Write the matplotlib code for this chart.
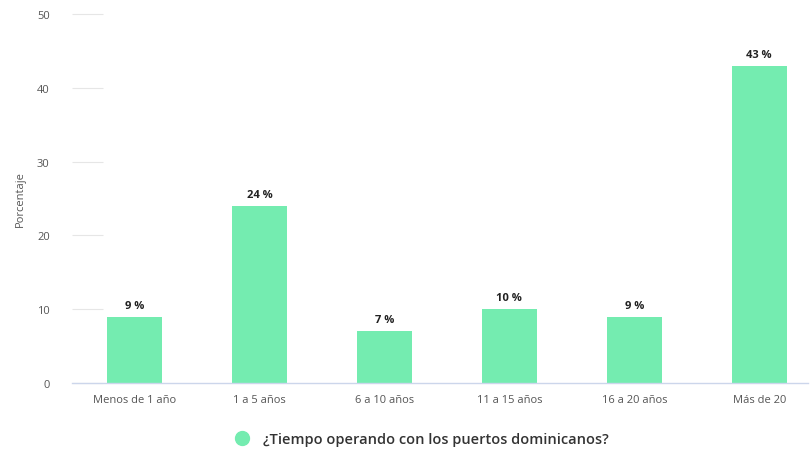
import matplotlib
matplotlib.use("Agg")
import matplotlib.pyplot as plt
import numpy as np

plt.rcParams["font.family"] = ["Open Sans", "DejaVu Sans"]

categories = ["Menos de 1 año", "1 a 5 años", "6 a 10 años", "11 a 15 años", "16 a 20 años", "Más de 20"]
values = [9, 24, 7, 10, 9, 43]
yticks = [0, 10, 20, 30, 40, 50]
series_name = "¿Tiempo operando con los puertos dominicanos?"

bar_color = "#74ecb0"

fig = plt.figure(figsize=(8.11, 4.52), dpi=100)
ax = fig.add_axes([72 / 811, 68 / 452, 736 / 811, 369 / 452])

x = np.arange(len(categories))
bars = ax.bar(x, values, width=0.44, color=bar_color, zorder=2)

for bar, val in zip(bars, values):
    ax.text(bar.get_x() + bar.get_width() / 2, val + 0.8, f"{val} %",
            ha="center", va="bottom", fontsize=8, fontweight="bold", color="#222222")

ax.set_xlim(-0.5, 5.39)
ax.set_ylim(0, 50)
ax.set_yticks(yticks)
ax.set_xticks(x)
ax.set_xticklabels(categories, fontsize=8, color="#555555")
ax.tick_params(axis="y", direction="in", length=22, width=0.8, color="#e6e6e6",
               labelsize=8, labelcolor="#555555", pad=16)
ax.tick_params(axis="x", length=0, pad=8)

for side in ["top", "right", "left"]:
    ax.spines[side].set_visible(False)
ax.spines["bottom"].set_color("#ccd6eb")
ax.spines["bottom"].set_linewidth(1)

ax.set_ylabel("Porcentaje", fontsize=8, color="#555555", labelpad=8)

# legend entry below the axis
fig.legend(handles=[plt.Line2D([], [], marker="o", linestyle="", markersize=10,
                               markerfacecolor=bar_color, markeredgecolor=bar_color)],
           labels=[series_name], loc="center", bbox_to_anchor=(418 / 811, 1 - 440 / 452),
           frameon=False, prop={"size": 10.5, "weight": "semibold"}, handletextpad=0.4,
           labelcolor="#333333")

fig.savefig("out.png", dpi=100)
